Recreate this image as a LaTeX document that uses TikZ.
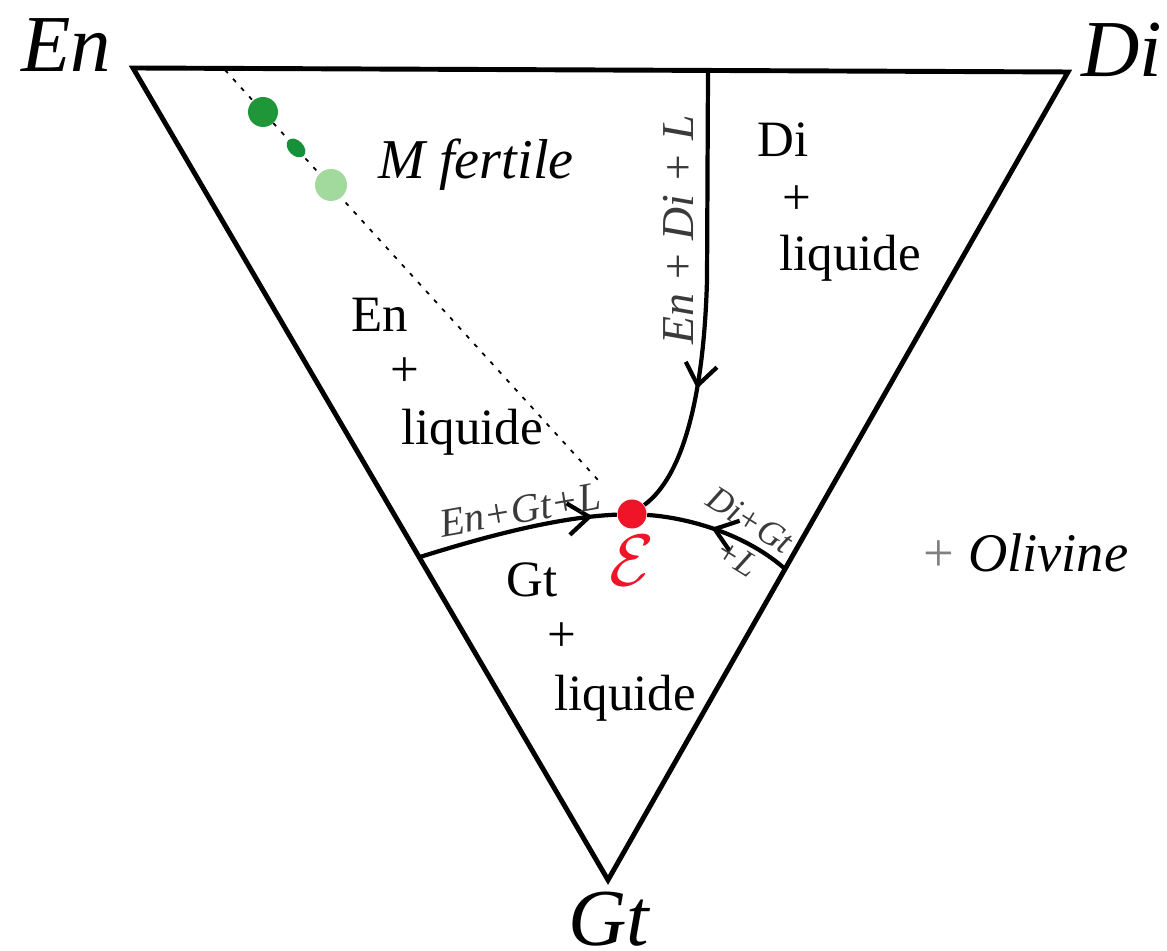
\documentclass[tikz,border=0pt]{standalone}
\usepackage{fontspec}
\setmainfont{Liberation Serif}
\usepackage{xcolor}
\usepackage{tikz}
\usetikzlibrary{positioning,arrows.meta,decorations.markings,shapes.geometric}

\definecolor{eutred}{HTML}{F01428}
\definecolor{mdark}{HTML}{1F9638}
\definecolor{mmid}{HTML}{17903A}
\definecolor{mlight}{HTML}{A2D99C}
\definecolor{labgrey}{HTML}{3A3A3A}

\begin{document}
\begin{tikzpicture}[>={Straight Barb[length=6pt,width=9pt]},
    every node/.style={font=\fontsize{14.5}{16}\selectfont, align=center, inner sep=1pt},
    vertexlab/.style={font=\fontsize{23}{25}\selectfont\itshape},
    cotlab/.style={font=\fontsize{11.5}{12}\selectfont\itshape, text=labgrey},
    midarrow/.style={postaction={decorate, decoration={markings, mark=at position #1 with {\arrow{>}}}}}]
  \useasboundingbox (0,0) rectangle (11.67,9.5);

  \coordinate (En) at (1.33,8.82);
  \coordinate (Di) at (10.68,8.78);
  \coordinate (Gt) at (6.08,0.70);
  \coordinate (pEnDi) at (7.08,8.80);
  \coordinate (pEnGt) at (4.20,3.93);
  \coordinate (pDiGt) at (7.84,3.82);
  \coordinate (dashA) at (2.25,8.80);
  \coordinate (dashB) at (5.98,4.70);

  \draw[line width=1.4pt] (En) -- (Di) -- (Gt) -- cycle;

  \node[vertexlab] (lEn) at (0.66,9.05) {En};
  \node[vertexlab] (lDi) at (11.22,9.00) {Di};
  \node[vertexlab] (lGt) at (6.09,0.31) {Gt};

  \draw[line width=0.5pt, dash pattern=on 1.2pt off 2.2pt] (dashA) -- (dashB);
  \node[circle, fill=mdark, minimum size=0.30cm, inner sep=0] (m1) at (2.63,8.38) {};
  \node[ellipse, fill=mmid, minimum width=0.22cm, minimum height=0.15cm, inner sep=0, rotate=-45] (m2) at (2.96,8.02) {};
  \node[circle, fill=mlight, minimum size=0.32cm, inner sep=0] (m3) at (3.31,7.65) {};
  \node[font=\fontsize{16}{18}\selectfont\itshape] (mfert) at (4.76,7.85) {M fertile};

  \node[circle, fill=eutred, minimum size=0.29cm, inner sep=0] (E) at (6.32,4.36) {};
  \node[below=0.02cm of E, text=eutred, font=\fontsize{20}{22}\selectfont] (lE) {$\mathcal{E}$};

  \draw[line width=1.2pt, midarrow=0.71] (pEnDi) -- (7.07,6.70)
    .. controls (7.04,5.60) and (6.85,4.75) .. (E);
  \draw[line width=1.2pt, midarrow=0.88] (pEnGt) .. controls (4.90,4.15) and (5.60,4.33) .. (E);
  \draw[line width=1.2pt, midarrow=0.56] (pDiGt) .. controls (7.40,4.20) and (6.80,4.33) .. (E);

  \node[cotlab, rotate=90, font=\fontsize{13}{14}\selectfont\itshape] (lEnDi) at (6.78,7.20) {En + Di + L};
  \node[cotlab, rotate=10] (lEnGt) at (5.20,4.40) {En+Gt+L};
  \node[cotlab, rotate=-32, font=\fontsize{10}{11}\selectfont\itshape] (lDiGt) at (7.50,4.30) {Di+Gt};
  \node[cotlab, rotate=-32, font=\fontsize{10}{11}\selectfont\itshape] (lL) at (7.37,3.92) {+L};

  \node (rDi) at (7.83,8.10) {Di};
  \node (rDip) at (7.97,7.50) {+};
  \node (rDil) at (8.50,6.92) {liquide};

  \node (rEn) at (3.80,6.35) {En};
  \node (rEnp) at (4.05,5.78) {+};
  \node (rEnl) at (4.72,5.18) {liquide};

  \node (rGt) at (5.32,3.70) {Gt};
  \node (rGtp) at (5.62,3.13) {+};
  \node (rGtl) at (6.25,2.52) {liquide};

  \node[font=\fontsize{15.5}{17}\selectfont] (oliv) at (10.26,3.97) {\textcolor{gray}{+} \textit{Olivine}};
\end{tikzpicture}
\end{document}
